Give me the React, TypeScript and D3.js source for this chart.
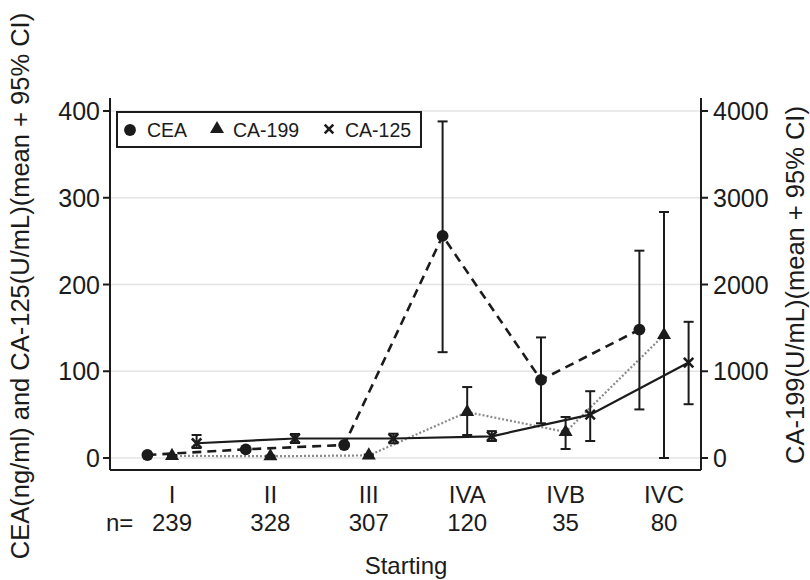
import * as d3 from "d3";

const STAGES = ["I", "II", "III", "IVA", "IVB", "IVC"];
const COUNTS = ["239", "328", "307", "120", "35", "80"];

// CEA (left axis), mean and 95% CI
const CEA_MEAN = [3.5, 10, 15, 256, 90, 148];
const CEA_LO = [2.5, 8.5, 13, 122, 40, 56];
const CEA_HI = [4.5, 11.5, 17, 388, 139, 239];

// CA-199 (right axis)
const CA199_MEAN = [25, 20, 30, 530, 300, 1418];
const CA199_LO = [15, 12, 20, 265, 104, 0];
const CA199_HI = [35, 28, 40, 818, 473, 2836];

// CA-125 (left axis)
const CA125_MEAN = [17, 22.5, 22.5, 25, 50, 110];
const CA125_LO = [11.5, 17.3, 17, 19.6, 19.6, 62];
const CA125_HI = [26.5, 27.7, 28, 31, 77, 157];

const LEFT_TICKS = [0, 100, 200, 300, 400];
const RIGHT_TICKS = [0, 1000, 2000, 3000, 4000];

const W = 810;
const H = 580;
const FONT = "'Liberation Sans', Arial, sans-serif";
const INK = "#1b1b1b";

export default function App() {
  const left = 110;
  const right = 701;
  const top = 98;
  const bottom = 470;

  const x = d3.scaleLinear().domain([0.37, 6.376]).range([left, right]);
  const yL = d3.scaleLinear().domain([-13.83, 415]).range([bottom, top]);
  const yR = d3.scaleLinear().domain([-138.3, 4150]).range([bottom, top]);

  const series = [
    { key: "cea", mean: CEA_MEAN, lo: CEA_LO, hi: CEA_HI, y: yL, off: -0.25, dash: "9,6", color: INK, width: 2.6, sym: d3.symbolCircle, size: 110 },
    { key: "ca199", mean: CA199_MEAN, lo: CA199_LO, hi: CA199_HI, y: yR, off: 0, dash: "2,2", color: "#8a8a8a", width: 2.2, sym: d3.symbolTriangle, size: 85 },
    { key: "ca125", mean: CA125_MEAN, lo: CA125_LO, hi: CA125_HI, y: yL, off: 0.25, dash: null, color: INK, width: 2.2, sym: d3.symbolX, size: 60 },
  ];

  const cap = 5;

  return (
    <svg width={W} height={H} style={{ position: "absolute", left: 0, top: 0, background: "#fff" }} fontFamily={FONT}>
      {/* gridlines */}
      {LEFT_TICKS.map((t) => (
        <line key={"g" + t} x1={left} x2={right} y1={yL(t)} y2={yL(t)} stroke="#e4e4e4" strokeWidth={1.6} />
      ))}

      {/* frame */}
      <line x1={left} x2={left} y1={top} y2={bottom} stroke={INK} strokeWidth={2} />
      <line x1={right} x2={right} y1={top} y2={bottom} stroke={INK} strokeWidth={2} />
      <line x1={left} x2={right} y1={bottom} y2={bottom} stroke={INK} strokeWidth={2} />

      {/* left ticks */}
      {LEFT_TICKS.map((t) => (
        <g key={"l" + t}>
          <line x1={left - 7} x2={left} y1={yL(t)} y2={yL(t)} stroke={INK} strokeWidth={2} />
          <text x={left - 10} y={yL(t)} dy="0.36em" textAnchor="end" fontSize={25} fill={INK}>{t}</text>
        </g>
      ))}
      {/* right ticks */}
      {RIGHT_TICKS.map((t) => (
        <g key={"r" + t}>
          <line x1={right} x2={right + 7} y1={yR(t)} y2={yR(t)} stroke={INK} strokeWidth={2} />
          <text x={right + 12} y={yR(t)} dy="0.36em" textAnchor="start" fontSize={25} fill={INK}>{t}</text>
        </g>
      ))}

      {/* axis titles */}
      <text transform="translate(20,286) rotate(-90)" textAnchor="middle" dy="0.36em" fontSize={25.5} fill={INK}>
        CEA(ng/ml) and CA-125(U/mL)(mean + 95% CI)
      </text>
      <text transform="translate(795,285) rotate(-90)" textAnchor="middle" dy="0.36em" fontSize={25.5} fill={INK}>
        CA-199(U/mL)(mean + 95% CI)
      </text>

      {/* category labels */}
      {STAGES.map((s, i) => (
        <text key={"s" + s} x={x(i + 1)} y={503} textAnchor="middle" fontSize={24} fill={INK}>{s}</text>
      ))}
      <text x={106} y={531} fontSize={24} fill={INK}>n=</text>
      {COUNTS.map((c, i) => (
        <text key={"c" + i} x={x(i + 1)} y={531} textAnchor="middle" fontSize={24} fill={INK}>{c}</text>
      ))}
      <text x={406} y={574} textAnchor="middle" fontSize={24} fill={INK}>Starting</text>

      {/* lines */}
      {series.map((s) => {
        const line = d3
          .line<number>()
          .x((_, i) => x(i + 1 + s.off))
          .y((d) => s.y(d));
        return (
          <path key={"p" + s.key} d={line(s.mean) || ""} fill="none" stroke={s.color} strokeWidth={s.width} strokeDasharray={s.dash || undefined} />
        );
      })}

      {/* error bars */}
      {series.map((s) =>
        s.mean.map((_, i) => {
          const cx = x(i + 1 + s.off);
          const y0 = s.y(s.lo[i]);
          const y1 = s.y(s.hi[i]);
          return (
            <g key={"e" + s.key + i} stroke={INK} strokeWidth={2}>
              <line x1={cx} x2={cx} y1={y0} y2={y1} />
              <line x1={cx - cap} x2={cx + cap} y1={y0} y2={y0} />
              <line x1={cx - cap} x2={cx + cap} y1={y1} y2={y1} />
            </g>
          );
        })
      )}

      {/* markers */}
      {series.map((s) =>
        s.mean.map((v, i) => (
          <path
            key={"m" + s.key + i}
            transform={`translate(${x(i + 1 + s.off)},${s.y(v)})`}
            d={d3.symbol(s.sym, s.size)() || ""}
            fill={s.key === "ca125" ? "none" : INK}
            stroke={s.key === "ca125" ? INK : "none"}
            strokeWidth={2.6}
          />
        ))
      )}

      {/* legend */}
      <rect x={117} y={112} width={304} height={35} fill="#fff" stroke={INK} strokeWidth={2} />
      <path transform="translate(130,130)" d={d3.symbol(d3.symbolCircle, 110)() || ""} fill={INK} />
      <text x={147} y={130} dy="0.36em" fontSize={19.5} fill={INK}>CEA</text>
      <path transform="translate(217,129)" d={d3.symbol(d3.symbolTriangle, 85)() || ""} fill={INK} />
      <text x={233} y={130} dy="0.36em" fontSize={19.5} fill={INK}>CA-199</text>
      <path transform="translate(329,129)" d={d3.symbol(d3.symbolX, 50)() || ""} fill="none" stroke={INK} strokeWidth={2.6} />
      <text x={345} y={130} dy="0.36em" fontSize={19.5} fill={INK}>CA-125</text>
    </svg>
  );
}
